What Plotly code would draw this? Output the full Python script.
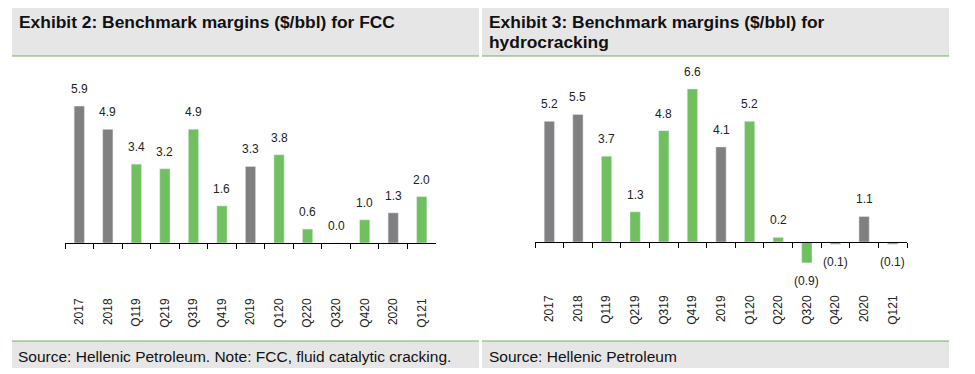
import plotly.graph_objects as go

categories = ["2017", "2018", "Q119", "Q219", "Q319", "Q419", "2019",
              "Q120", "Q220", "Q320", "Q420", "2020", "Q121"]
fcc_values = [5.9, 4.9, 3.4, 3.2, 4.9, 1.6, 3.3, 3.8, 0.6, 0.0, 1.0, 1.3, 2.0]
hc_values = [5.2, 5.5, 3.7, 1.3, 4.8, 6.6, 4.1, 5.2, 0.2, -0.9, -0.1, 1.1, -0.1]
is_annual = [True, True, False, False, False, False, True,
             False, False, False, False, True, False]

title_left = "Exhibit 2: Benchmark margins ($/bbl) for FCC"
title_right_1 = "Exhibit 3: Benchmark margins ($/bbl) for"
title_right_2 = "hydrocracking"
source_left = "Source: Hellenic Petroleum. Note: FCC, fluid catalytic cracking."
source_right = "Source: Hellenic Petroleum"

GRAY = "#808080"
GREEN = "#70c05f"
FONT = "Liberation Sans, Arial, sans-serif"

# the page body has an 8px margin; the figure is sized to fit inside the window
OFF = 8
W, H = 975 - OFF, 374 - OFF

colors = [GRAY if a else GREEN for a in is_annual]

def px(x):
    return (x - OFF) / W

def py(y):
    return 1 - (y - OFF) / H

PXU = 23.2  # pixels per unit

fig = go.Figure()

fig.add_trace(go.Bar(x=categories, y=fcc_values, marker_color=colors,
                     xaxis="x", yaxis="y", width=0.36, hoverinfo="x+y"))
fig.add_trace(go.Bar(x=categories, y=hc_values, marker_color=colors,
                     xaxis="x3", yaxis="y2", width=0.36, hoverinfo="x+y"))

# panel geometry (reference pixels)
L = dict(x0=65, x1=436, base=243, top=70, bottom=295)
R = dict(x0=535, x1=907, base=242, top=70, bottom=292)

def yrange(p):
    return [-(p["bottom"] - p["base"]) / PXU, (p["base"] - p["top"]) / PXU]

common_axis = dict(type="category", categoryorder="array", categoryarray=categories,
                   range=[-0.5, 12.5], fixedrange=True)

layout = dict(
    width=W, height=H, margin=dict(l=0, r=0, t=0, b=0),
    paper_bgcolor="white", plot_bgcolor="rgba(0,0,0,0)",
    showlegend=False, bargap=0.64,
    font=dict(family=FONT, size=12, color="#222222"),
)

def axis_pair(p, yname, line_name):
    line_ax = dict(common_axis, domain=[px(p["x0"]), px(p["x1"])], anchor="free",
                   position=py(p["base"]), showline=True, linecolor="#000000", linewidth=1,
                   ticks="outside", ticklen=5, tickcolor="#000000", tickwidth=1,
                   tickson="boundaries", showticklabels=False, showgrid=False,
                   zeroline=False)
    label_ax = dict(common_axis, domain=[px(p["x0"]), px(p["x1"])], anchor=yname,
                    overlaying=line_name, side="bottom", showline=False, ticks="",
                    showgrid=False, zeroline=False, tickangle=-90,
                    tickfont=dict(size=12, color="#222222", family=FONT))
    return line_ax, label_ax

lx, lx2 = axis_pair(L, "y", "x")
rx, rx2 = axis_pair(R, "y2", "x3")
layout["xaxis"] = lx
layout["xaxis2"] = lx2
layout["xaxis3"] = rx
layout["xaxis4"] = rx2
layout["yaxis"] = dict(domain=[py(L["bottom"]), py(L["top"])], range=yrange(L),
                       visible=False, fixedrange=True, anchor="x")
layout["yaxis2"] = dict(domain=[py(R["bottom"]), py(R["top"])], range=yrange(R),
                        visible=False, fixedrange=True, anchor="x3")

# invisible traces so the label axes render
fig.add_trace(go.Scatter(x=categories, y=[None] * len(categories), xaxis="x2", yaxis="y",
                         mode="markers", showlegend=False, hoverinfo="skip"))
fig.add_trace(go.Scatter(x=categories, y=[None] * len(categories), xaxis="x4", yaxis="y2",
                         mode="markers", showlegend=False, hoverinfo="skip"))

fig.update_layout(**layout)

def fmt(v):
    return f"({abs(v):.1f})" if v < 0 else f"{v:.1f}"

annotations = []
for xref, yref, vals in (("x", "y", fcc_values), ("x3", "y2", hc_values)):
    for i, v in enumerate(vals):
        annotations.append(dict(x=i, y=v, xref=xref, yref=yref, text=fmt(v),
                                showarrow=False, xanchor="center", yanchor="middle",
                                yshift=(-18 if v < 0 else 17),
                                font=dict(size=12, color="#222222", family=FONT)))

# header / footer boxes
shapes = []
for (x0, x1) in ((12, 479), (482, 949)):
    shapes.append(dict(type="rect", xref="paper", yref="paper", x0=px(x0), x1=px(x1),
                       y0=py(56), y1=py(6), fillcolor="#e6e6e6", line=dict(width=0),
                       layer="below"))
    shapes.append(dict(type="line", xref="paper", yref="paper", x0=px(x0), x1=px(x1),
                       y0=py(56), y1=py(56), line=dict(color="#70b060", width=1)))
    shapes.append(dict(type="rect", xref="paper", yref="paper", x0=px(x0), x1=px(x1),
                       y0=py(368), y1=py(341), fillcolor="#e6e6e6", line=dict(width=0),
                       layer="below"))
    shapes.append(dict(type="line", xref="paper", yref="paper", x0=px(x0), x1=px(x1),
                       y0=py(341), y1=py(341), line=dict(color="#70b060", width=1)))

def txt(text, x, y, size, bold=False):
    return dict(text=(f"<b>{text}</b>" if bold else text), xref="paper", yref="paper",
                x=px(x), y=py(y), xanchor="left", yanchor="middle", showarrow=False,
                font=dict(size=size, color="#111111", family=FONT))

annotations.append(txt(title_left, 17, 22, 17.4, True))
annotations.append(txt(title_right_1, 487, 22, 17.4, True))
annotations.append(txt(title_right_2, 487, 42, 17.4, True))
annotations.append(txt(source_left, 16, 356, 15.5))
annotations.append(txt(source_right, 487, 356, 15.5))

fig.update_layout(shapes=shapes, annotations=annotations)

fig.write_html("out.html", config={"displayModeBar": False})
